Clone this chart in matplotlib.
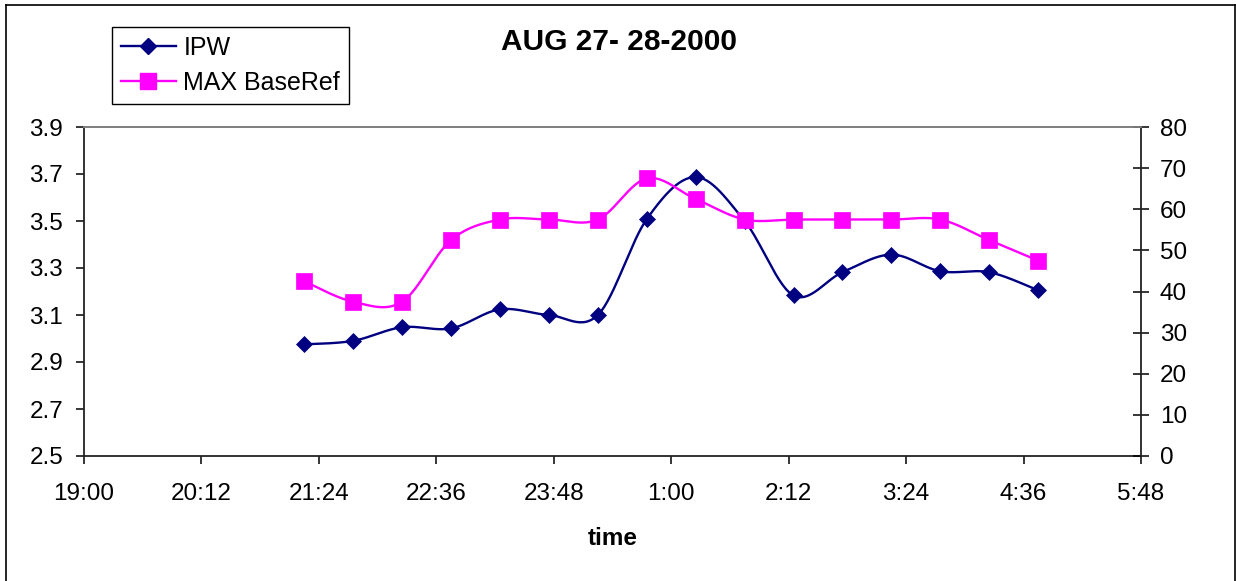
import matplotlib
matplotlib.use("Agg")
import matplotlib.pyplot as plt
import numpy as np
from matplotlib.lines import Line2D

plt.rcParams['font.family'] = ['Liberation Sans', 'DejaVu Sans']

# ---- data ----
times = ["21:15", "21:45", "22:15", "22:45", "23:15", "23:45", "0:15", "0:45",
         "1:15", "1:45", "2:15", "2:45", "3:15", "3:45", "4:15", "4:45"]
ipw = [2.975, 2.99, 3.048, 3.043, 3.124, 3.10, 3.10, 3.508,
       3.687, 3.50, 3.183, 3.282, 3.357, 3.286, 3.282, 3.205]
max_baseref = [42.5, 37.5, 37.5, 52.5, 57.5, 57.5, 57.5, 67.5,
               62.5, 57.5, 57.5, 57.5, 57.5, 57.5, 52.5, 47.5]
xtick_labels = ["19:00", "20:12", "21:24", "22:36", "23:48", "1:00",
                "2:12", "3:24", "4:36", "5:48"]
title = "AUG 27- 28-2000"
xlabel = "time"


def to_minutes(t):
    h, m = map(int, t.split(":"))
    mins = h * 60 + m - 19 * 60
    if mins < 0:
        mins += 24 * 60
    return mins


x = np.array([to_minutes(t) for t in times], dtype=float)
xticks = [to_minutes(t) for t in xtick_labels]


def smooth(xs, ys, n=30):
    # Catmull-Rom curve through the points (Excel style smoothed line rendering)
    xs = np.asarray(xs, float)
    ys = np.asarray(ys, float)
    P = np.column_stack([xs, ys])
    P = np.vstack([P[0], P, P[-1]])
    out = []
    t = np.linspace(0, 1, n, endpoint=False)
    for i in range(1, len(P) - 2):
        p0, p1, p2, p3 = P[i - 1], P[i], P[i + 1], P[i + 2]
        c1 = p1 + (p2 - p0) / 6.0
        c2 = p2 - (p3 - p1) / 6.0
        tt = t[:, None]
        seg = ((1 - tt) ** 3) * p1 + 3 * ((1 - tt) ** 2) * tt * c1 + \
            3 * (1 - tt) * tt ** 2 * c2 + tt ** 3 * p2
        out.append(seg)
    out.append(P[-2][None, :])
    out = np.vstack(out)
    return out[:, 0], out[:, 1]


W, H = 1236, 581
fig = plt.figure(figsize=(W / 100, H / 100), dpi=100)
ax = fig.add_axes([84 / W, 1 - 456 / H, (1141 - 84) / W, (456 - 127) / H])
ax2 = ax.twinx()

navy = "#000080"
magenta = "#FF00FF"
dsize = 8.3
ssize = 11

sx, sy = smooth(x, ipw)
ax.plot(sx, sy, color=navy, lw=1.7, zorder=3)
ax.plot(x, ipw, linestyle="none", marker="D", markersize=dsize,
        color=navy, markeredgewidth=0.5, zorder=4)

mx, my = smooth(x, max_baseref)
ax2.plot(mx, my, color=magenta, lw=1.7, zorder=3)
ax2.plot(x, max_baseref, linestyle="none", marker="s", markersize=ssize,
         color=magenta, markeredgewidth=0.5, zorder=4)

ax.set_xlim(0, 648)
ax.set_ylim(2.5, 3.9)
ax2.set_ylim(0, 80)
ax.set_xticks(xticks)
ax.set_xticklabels(xtick_labels)
ax.set_yticks(np.arange(2.5, 3.91, 0.2))
ax.set_yticklabels([f"{v:.1f}" for v in np.arange(2.5, 3.91, 0.2)])
ax2.set_yticks(np.arange(0, 81, 10))

fs = 17.5
ax.tick_params(axis="x", direction="out", length=6, width=1.1, pad=13.5,
               labelsize=fs, colors="black")
ax.tick_params(axis="y", direction="out", length=6, width=1.1, pad=9,
               labelsize=fs, colors="black")
ax2.tick_params(axis="y", direction="inout", length=11, width=1.1, pad=8,
                labelsize=fs, colors="black")

for a in (ax, ax2):
    for s in ("left", "bottom", "right"):
        a.spines[s].set_color("#222222")
        a.spines[s].set_linewidth(1.3)
    a.spines["top"].set_color("#808080")
    a.spines["top"].set_linewidth(1.3)
ax.spines["right"].set_visible(False)
ax2.spines["left"].set_visible(False)
ax2.spines["bottom"].set_visible(False)

ax.set_xlabel(xlabel, fontsize=fs, fontweight="bold", labelpad=15.5)

fig.text(619 / W, 1 - 42 / H, title, fontsize=21.5, fontweight="bold",
         ha="center", va="center")

handles = [
    Line2D([], [], color=navy, lw=1.7, marker="D", markersize=dsize),
    Line2D([], [], color=magenta, lw=1.7, marker="s", markersize=ssize),
]
leg = ax2.legend(handles, ["IPW", "MAX BaseRef"], loc="upper left",
                 bbox_to_anchor=(112 / W, 1 - 27 / H),
                 bbox_transform=fig.transFigure, borderaxespad=0,
                 fontsize=18, frameon=True, fancybox=False, shadow=False,
                 handlelength=2.2, handletextpad=0.3, labelspacing=0.45,
                 borderpad=0.35)
leg.get_frame().set_edgecolor("black")
leg.get_frame().set_linewidth(1.0)
leg.get_frame().set_alpha(1)

# outer chart border
for xs_, ys_ in [([6, 6], [0, H - 5]), ([6, W - 1], [H - 5, H - 5]),
                 ([W - 1.5, W - 1.5], [0, H - 5])]:
    fig.add_artist(Line2D(np.array(xs_) / W, np.array(ys_) / H,
                          transform=fig.transFigure, color="black", lw=1.2))

fig.savefig("out.png", dpi=100)
